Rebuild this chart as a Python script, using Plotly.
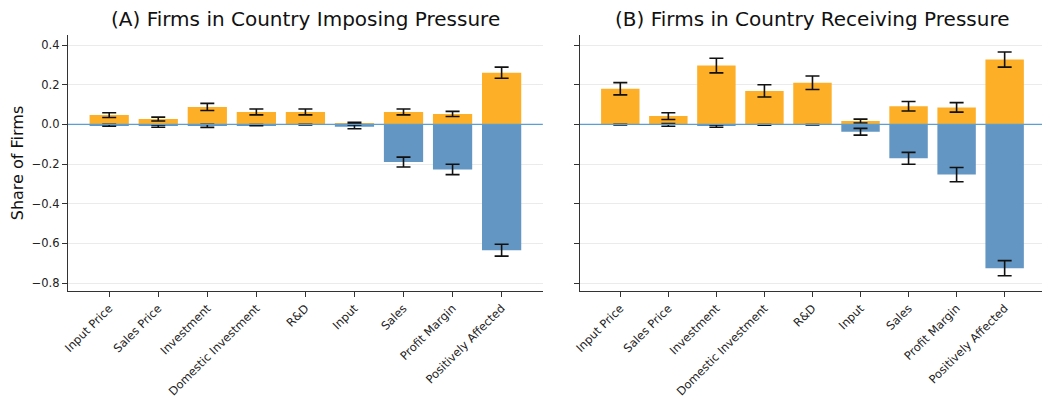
import plotly.graph_objects as go

categories = ["Input Price", "Sales Price", "Investment", "Domestic Investment", "R&D",
              "Input", "Sales", "Profit Margin", "Positively Affected"]

# Panel A: firms in country imposing pressure
a_pos = [0.047, 0.027, 0.088, 0.063, 0.063, 0.007, 0.063, 0.053, 0.261]
a_pos_err = [0.012, 0.010, 0.018, 0.015, 0.015, 0.004, 0.015, 0.013, 0.028]
a_neg = [-0.004, -0.008, -0.007, -0.003, -0.001, -0.012, -0.190, -0.227, -0.634]
a_neg_err = [0.005, 0.006, 0.008, 0.003, 0.002, 0.010, 0.025, 0.026, 0.030]

# Panel B: firms in country receiving pressure
b_pos = [0.180, 0.042, 0.297, 0.169, 0.210, 0.017, 0.092, 0.086, 0.327]
b_pos_err = [0.031, 0.017, 0.037, 0.031, 0.034, 0.010, 0.024, 0.024, 0.038]
b_neg = [-0.001, -0.002, -0.008, -0.002, -0.001, -0.037, -0.171, -0.253, -0.725]
b_neg_err = [0.002, 0.007, 0.006, 0.002, 0.001, 0.017, 0.030, 0.036, 0.038]

y_ticks = [-0.8, -0.6, -0.4, -0.2, 0.0, 0.2, 0.4]

ORANGE = "#FDAF28"
BLUE = "#6396C3"
ZERO = "#5A9FD3"

fig = go.Figure()

def add_panel(pos, pos_err, neg, neg_err, xa, ya):
    for vals, errs, col in ((pos, pos_err, ORANGE), (neg, neg_err, BLUE)):
        fig.add_trace(go.Bar(
            x=list(range(len(categories))), y=vals, width=0.8,
            marker=dict(color=col, line=dict(width=0)),
            error_y=dict(type="data", array=errs, visible=True, color="#111111",
                         thickness=1.6, width=7),
            xaxis=xa, yaxis=ya, showlegend=False))

add_panel(a_pos, a_pos_err, a_neg, a_neg_err, "x", "y")
add_panel(b_pos, b_pos_err, b_neg, b_neg_err, "x2", "y2")

xcommon = dict(
    range=[-0.84, 8.84], tickmode="array", tickvals=list(range(len(categories))),
    ticktext=categories, tickangle=-45, ticks="outside", ticklen=5, tickwidth=1,
    tickcolor="#333", showline=True, linecolor="#333", linewidth=1.2,
    showgrid=False, zeroline=False, tickfont=dict(size=11.5, color="#222"),
    automargin=False,
)
ycommon = dict(
    range=[-0.84, 0.451], tickmode="array", tickvals=y_ticks,
    ticks="outside", ticklen=5, tickwidth=1, tickcolor="#333",
    showline=True, linecolor="#333", linewidth=1.2,
    showgrid=True, gridcolor="#ebebeb", gridwidth=1, zeroline=False,
    tickfont=dict(size=11.5, color="#222"), automargin=False,
)

fig.update_layout(
    width=1042, height=392,
    margin=dict(l=60, r=5, t=27, b=109),
    paper_bgcolor="white", plot_bgcolor="white",
    barmode="overlay",
    font=dict(family="DejaVu Sans", color="#111"),
    xaxis=dict(domain=[0.0, 0.486], anchor="y", **xcommon),
    xaxis2=dict(domain=[0.524, 1.0], anchor="y2", **xcommon),
    yaxis=dict(anchor="x", tickformat=".1f",
               title=dict(text="Share of Firms", font=dict(size=16), standoff=10),
               **ycommon),
    yaxis2=dict(anchor="x2", showticklabels=False, **ycommon),
    annotations=[
        dict(text="(A) Firms in Country Imposing Pressure", x=0.243, y=1.0,
             xref="paper", yref="paper", xanchor="center", yanchor="bottom",
             showarrow=False, font=dict(size=20, color="#111"), yshift=2),
        dict(text="(B) Firms in Country Receiving Pressure", x=0.762, y=1.0,
             xref="paper", yref="paper", xanchor="center", yanchor="bottom",
             showarrow=False, font=dict(size=20, color="#111"), yshift=2),
    ],
    shapes=[
        dict(type="line", xref="x domain", yref="y", x0=0, x1=1, y0=0, y1=0,
             line=dict(color=ZERO, width=1.3), layer="above"),
        dict(type="line", xref="x2 domain", yref="y2", x0=0, x1=1, y0=0, y1=0,
             line=dict(color=ZERO, width=1.3), layer="above"),
    ],
)

fig.write_html("out.html")
